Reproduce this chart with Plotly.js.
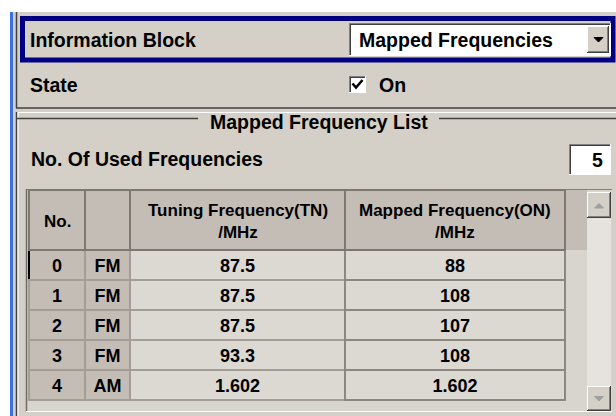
<!DOCTYPE html>
<html>
<head>
<meta charset="utf-8">
<script src="https://cdn.plot.ly/plotly-3.0.1.min.js"></script>
<style>
html,body{margin:0;padding:0;background:#d4d0c8;}
#chart{width:616px;height:416px;}
</style>
</head>
<body>
<div id="chart"></div>
<script>
// ---- data ----
var rowNo = [0, 1, 2, 3, 4];
var band = ['FM', 'FM', 'FM', 'FM', 'AM'];
var tuningMHz = [87.5, 87.5, 87.5, 93.3, 1.602];
var mappedMHz = [88, 108, 107, 108, 1.602];
var headerLabels = ['No.', '', 'Tuning Frequency(TN)<br>/MHz', 'Mapped Frequency(ON)<br>/MHz'];
var usedFrequencies = 5;
var infoBlockLabel = 'Information Block';
var infoBlockValue = 'Mapped Frequencies';
var stateLabel = 'State';
var stateValue = 'On';
var groupTitle = 'Mapped Frequency List';
var usedLabel = 'No. Of Used Frequencies';

// ---- helpers (pixel -> paper) ----
var W = 616, H = 416;
function X(p){ return p / W; }
function Y(p){ return 1 - p / H; }
var FONT = 'Liberation Sans, Arial, sans-serif';
var shapes = [];
var ann = [];
function rect(x0, y0, x1, y1, fill, lc, lw){
  shapes.push({type:'rect', xref:'paper', yref:'paper', layer:'below',
    x0:X(x0), x1:X(x1), y0:Y(y1), y1:Y(y0),
    fillcolor: fill || 'rgba(0,0,0,0)',
    line:{color: lc || 'rgba(0,0,0,0)', width: lw || 0}});
}
function line(x0, y0, x1, y1, c, w){
  shapes.push({type:'line', xref:'paper', yref:'paper', layer:'below',
    x0:X(x0), x1:X(x1), y0:Y(y0), y1:Y(y1), line:{color:c, width:w||1}});
}
function path(pts, fill, lc, lw, closed){
  var d = pts.map(function(p, i){ return (i ? 'L' : 'M') + X(p[0]) + ',' + Y(p[1]); }).join(' ') + (closed ? ' Z' : '');
  shapes.push({type:'path', xref:'paper', yref:'paper', layer:'below', path:d,
    fillcolor: fill || 'rgba(0,0,0,0)', line:{color: lc || 'rgba(0,0,0,0)', width: lw || 0}});
}
function text(t, x, y, xa, size){
  ann.push({text:t, xref:'paper', yref:'paper', x:X(x), y:Y(y), xanchor:xa||'left', yanchor:'middle',
    align:'center', showarrow:false, font:{family:FONT, size:size||19.5, color:'#000', weight:'bold'}});
}
function raised(x0, y0, x1, y1){
  rect(x0, y0, x1, y1, '#d4d0c8');
  line(x0, y0+0.5, x1, y0+0.5, '#ffffff', 1);
  line(x0+0.5, y0, x0+0.5, y1, '#ffffff', 1);
  line(x0, y1-0.5, x1, y1-0.5, '#404040', 1);
  line(x1-0.5, y0, x1-0.5, y1, '#404040', 1);
  line(x0+1, y1-1.5, x1-1, y1-1.5, '#808080', 1);
  line(x1-1.5, y0+1, x1-1.5, y1-1, '#808080', 1);
}
function sunken(x0, y0, x1, y1, fill){
  rect(x0, y0, x1, y1, fill);
  line(x0, y0+0.5, x1, y0+0.5, '#808080', 1);
  line(x0+0.5, y0, x0+0.5, y1, '#808080', 1);
  line(x0+1, y0+1.5, x1-1, y0+1.5, '#404040', 1);
  line(x0+1.5, y0+1, x0+1.5, y1-1, '#404040', 1);
  line(x0, y1-0.5, x1, y1-0.5, '#ffffff', 1);
  line(x1-0.5, y0, x1-0.5, y1, '#ffffff', 1);
}

// ---- window chrome ----
rect(0, 0, 616, 12, '#ffffff');
rect(0, 0, 10, 416, '#ffffff');
rect(10, 12, 13, 416, '#3a72e0');
line(16.5, 12, 16.5, 108, '#404040', 1.5);
line(16, 108, 616, 108, '#404040', 1.5);
line(17, 112.5, 616, 112.5, '#ffffff', 1);
line(16.5, 112, 16.5, 416, '#404040', 1.5);
line(18, 113, 18, 416, '#ffffff', 1);

// Information block
rect(22.5, 18.5, 613, 60, 'rgba(0,0,0,0)', '#000080', 5);
sunken(349, 23, 611, 56, '#ffffff');
raised(587, 26, 609, 53);
path([[594, 37.5], [603, 37.5], [598.5, 42]], '#000000', '#000000', 1, true);
text(infoBlockLabel, 28, 40);
text(infoBlockValue, 357, 40);

// State
text(stateLabel, 28, 85);
sunken(349, 76, 366, 93, '#ffffff');
path([[352.5, 83.5], [356, 87.5], [362.5, 80]], null, '#000000', 2.5, false);
text(stateValue, 377, 85);

// Group box title
line(17, 118.5, 198, 118.5, '#404040', 1.5);
line(439, 118.5, 616, 118.5, '#404040', 1.5);
text(groupTitle, 208, 122);

// Used frequencies
text(usedLabel, 29, 159);
sunken(569, 144, 611, 175, '#ffffff');
text(String(usedFrequencies), 605, 160, 'right');

// Table container
rect(26, 189, 612, 412, '#d8d4ce');
line(26, 189.5, 612, 189.5, '#808080', 1);
line(26.5, 189, 26.5, 412, '#6e6a64', 1.5);
line(26, 411.5, 612, 411.5, '#ffffff', 1);
rect(565, 190, 587, 250, '#c4bdb6');
// vertical scrollbar
rect(587, 192, 611, 411, '#e6e3de');
raised(587, 192, 611, 218);
path([[594.5, 208], [603.5, 208], [599, 203.5]], '#a0a0a0', '#a0a0a0', 1, true);
raised(587, 386, 611, 411);
path([[594.5, 396.5], [603.5, 396.5], [599, 401]], '#a0a0a0', '#a0a0a0', 1, true);

// ---- table ----
var tableLeft = 29, tableRight = 565, tableTop = 190, headerH = 60;
var colW = [56, 45, 215, 220];
var dark = '#c4bdb6', light = '#dcd8d2';
var cellLine = [
  rowNo.map(function(_, i){ return i === 0 ? '#000000' : '#a39d95'; }),
  rowNo.map(function(){ return '#a39d95'; }),
  rowNo.map(function(){ return '#a39d95'; }),
  rowNo.map(function(){ return '#8c877f'; })
];
var trace = {
  type:'table',
  domain:{x:[X(tableLeft), X(tableRight)], y:[Y(410), Y(tableTop)]},
  columnwidth: colW,
  header:{
    values: headerLabels.map(function(){ return ''; }),
    height: headerH,
    align: 'center',
    fill: {color: dark},
    line: {color: '#7c776f', width: 2},
    font: {family: FONT, size: 17, color: '#000', weight: 'bold'}
  },
  cells:{
    values: [rowNo, band, tuningMHz, mappedMHz],
    height: 30,
    align: 'center',
    fill: {color: [dark, dark, light, light]},
    line: {color: cellLine, width: 2},
    font: {family: FONT, size: 18, color: '#000', weight: 'bold'}
  }
};

// header labels, centred in each column (multi-line centred per line)
var totW = colW.reduce(function(a, b){ return a + b; }, 0);
var acc = 0;
headerLabels.forEach(function(lbl, i){
  var cx = tableLeft + (acc + colW[i] / 2) * (tableRight - tableLeft) / totW;
  acc += colW[i];
  if (lbl) text(lbl, cx, tableTop + headerH / 2 + 1, 'center', 17);
});

var layout = {
  width: W, height: H,
  margin: {l:0, r:0, t:0, b:0, pad:0},
  paper_bgcolor: '#d4d0c8',
  plot_bgcolor: '#d4d0c8',
  showlegend: false,
  shapes: shapes,
  annotations: ann
};
Plotly.newPlot('chart', [trace], layout, {displayModeBar:false, staticPlot:true});
</script>
</body>
</html>
